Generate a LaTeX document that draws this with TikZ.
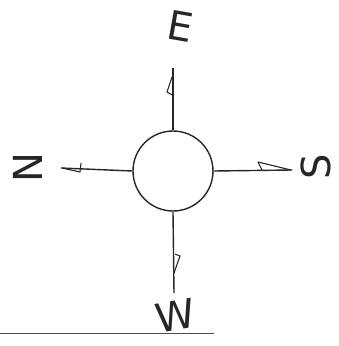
\documentclass[tikz,border=0pt]{standalone}
\usepackage{fontspec}
\setmainfont{DejaVu Sans}
\begin{document}
\begin{tikzpicture}[x=1pt,y=-1pt,
  ink/.style={line width=1.4pt,black!85},
  barb/.style={line width=1.1pt,black!85,line join=round},
  letter/.style={font=\fontsize{40}{40}\selectfont,inner sep=0pt,text=black!85}]
\useasboundingbox (0,0) rectangle (339,346);
\node[circle,draw,ink,minimum size=80pt,inner sep=0pt] (c) at (173,171) {};
\coordinate (tE) at (173,68);
\coordinate (tN) at (61,168);
\coordinate (tS) at (292,170);
\coordinate (tW) at (174,293);
\draw[ink] (c.north) -- (tE);
\draw[ink] (c.west) -- (tN);
\draw[ink] (c.east) -- (tS);
\draw[ink] (c.south) -- (tW);
% half arrowheads
\draw[barb] (172,77) -- (167,92) -- (174,96);
\draw[barb] (62,168) -- (80,172) -- (81,163);
\draw[barb] (291,170) -- (258,162) -- (262,170);
\draw[barb] (174,273) -- (180,256) -- (175,254);
\node[letter,rotate=-10] (E) at (180,26) {E};
\node[letter,rotate=90] (N) at (28,168) {N};
\node[letter,rotate=90] (S) at (316,167) {S};
\node[letter,rotate=10] (W) at (175,316) {W};
\draw[line width=0.9pt,black!70] (0,333) -- (214,333);
\end{tikzpicture}
\end{document}
